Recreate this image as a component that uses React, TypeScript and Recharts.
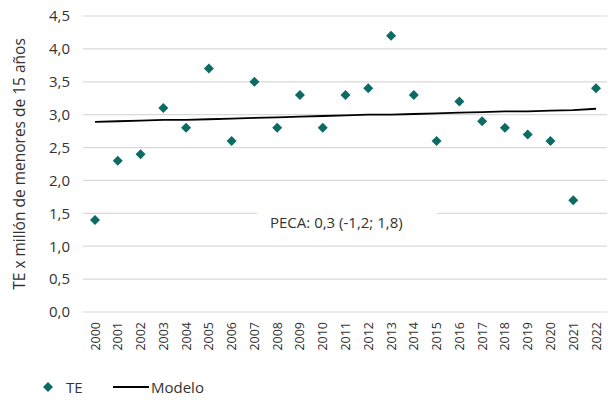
import React from "react";
import {
  CartesianGrid,
  ComposedChart,
  Customized,
  Legend,
  Line,
  XAxis,
  YAxis,
} from "recharts";

const years = [
  "2000", "2001", "2002", "2003", "2004", "2005", "2006", "2007", "2008", "2009", "2010", "2011",
  "2012", "2013", "2014", "2015", "2016", "2017", "2018", "2019", "2020", "2021", "2022",
];
const te = [1.4, 2.3, 2.4, 3.1, 2.8, 3.7, 2.6, 3.5, 2.8, 3.3, 2.8, 3.3, 3.4, 4.2, 3.3, 2.6, 3.2, 2.9, 2.8, 2.7, 2.6, 1.7, 3.4];
const modelo = [
  2.89, 2.9, 2.91, 2.92, 2.92, 2.93, 2.94, 2.95, 2.96, 2.97, 2.98, 2.99, 3.0, 3.0, 3.01, 3.02, 3.03,
  3.04, 3.05, 3.05, 3.06, 3.07, 3.09,
];
const yTicks = [0, 0.5, 1, 1.5, 2, 2.5, 3, 3.5, 4, 4.5];

const data = years.map((year, i) => ({ year, te: te[i], modelo: modelo[i] }));

const TEAL = "#0d6b65";
const TEXT = "#333333";
const FONT = "Open Sans, sans-serif";

const fmt = (v: number) => v.toFixed(1).replace(".", ",");

const Diamond = (props: any) => {
  const { cx, cy } = props;
  if (cx == null || cy == null) return null;
  const r = 5;
  return <path d={`M${cx},${cy - r}L${cx + r},${cy}L${cx},${cy + r}L${cx - r},${cy}Z`} fill={TEAL} />;
};

const YearTick = (props: any) => {
  const { x, y, payload } = props;
  const ty = y + 2;
  return (
    <text
      x={x}
      y={ty}
      transform={`rotate(-90 ${x} ${ty})`}
      textAnchor="end"
      dominantBaseline="central"
      fontSize={12.5}
      fill={TEXT}
      fontFamily={FONT}
    >
      {payload.value}
    </text>
  );
};

const Annotation = () => (
  <g>
    <rect x={257} y={208} width={180} height={28} fill="#ffffff" />
    <text x={270} y={222} dominantBaseline="central" fontSize={15} fill={TEXT} fontFamily={FONT}>
      PECA: 0,3 (-1,2; 1,8)
    </text>
  </g>
);

const LegendContent = () => (
  <svg width={300} height={34} style={{ overflow: "visible", display: "block" }}>
    <path d="M48,13L53,18L48,23L43,18Z" fill={TEAL} />
    <text x={66} y={18} dominantBaseline="central" fontSize={15} fill={TEXT} fontFamily={FONT}>
      TE
    </text>
    <line x1={113} y1={18} x2={149} y2={18} stroke="#000" strokeWidth={1.8} />
    <text x={151} y={18} dominantBaseline="central" fontSize={15} fill={TEXT} fontFamily={FONT}>
      Modelo
    </text>
  </svg>
);

export default function App() {
  return (
    <div style={{ position: "absolute", left: 0, top: 0, background: "#fff" }}>
      <ComposedChart
        width={611}
        height={403}
        data={data}
        margin={{ top: 16, right: 4, left: 0, bottom: 0 }}
      >
        <CartesianGrid vertical={false} stroke="#d9d9d9" strokeWidth={1.2} />
        <XAxis
          dataKey="year"
          axisLine={false}
          tickLine={false}
          interval={0}
          height={57}
          padding={{ left: 12, right: 11 }}
          tick={<YearTick />}
        />
        <YAxis
          domain={[0, 4.5]}
          ticks={yTicks}
          axisLine={false}
          tickLine={false}
          width={83}
          tickMargin={7}
          tickFormatter={fmt}
          tick={{ fill: TEXT, fontSize: 15, fontFamily: FONT }}
          label={{
            value: "TE x millón de menores de 15 años",
            angle: -90,
            position: "insideLeft",
            dx: 14,
            dy: 0,
            style: { textAnchor: "middle", fill: TEXT, fontSize: 15.5, fontFamily: FONT },
          }}
        />
        <Customized component={Annotation} />
        <Line
          dataKey="modelo"
          stroke="#000"
          strokeWidth={1.8}
          dot={false}
          isAnimationActive={false}
        />
        <Line
          dataKey="te"
          stroke="none"
          dot={<Diamond />}
          activeDot={false}
          isAnimationActive={false}
        />
        <Legend
          verticalAlign="bottom"
          align="left"
          height={34}
          content={<LegendContent />}
          wrapperStyle={{ left: 0, bottom: 0 }}
        />
      </ComposedChart>
    </div>
  );
}
